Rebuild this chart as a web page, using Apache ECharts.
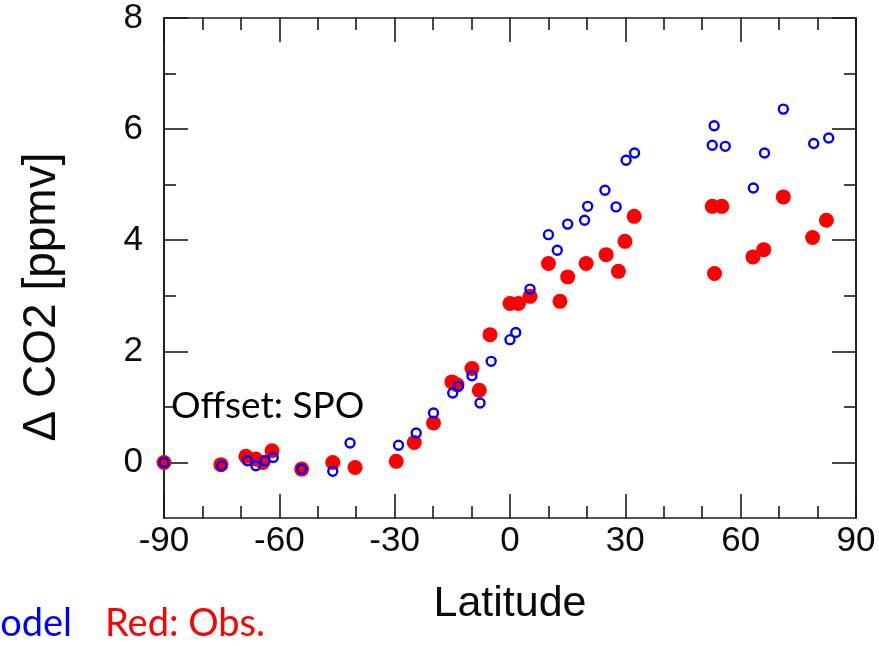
<!DOCTYPE html>
<html>
<head>
<meta charset="utf-8">
<script src="https://cdn.jsdelivr.net/npm/echarts@6/dist/echarts.min.js"></script>
<style>
html,body{margin:0;padding:0;background:#fff;}
#chart{width:879px;height:646px;}
</style>
</head>
<body>
<div id="chart"></div>
<script>
// Observations (red, filled)
const obsLat = [-90, -75.2, -68.7, -66.1, -64.3, -61.9, -54.2, -46.1, -40.3, -29.6, -24.9, -19.9, -15.1, -13.8, -9.9, -8.0, -5.2, 0.0, 2.2, 5.2, 10.0, 13.0, 15.0, 19.8, 25.0, 28.2, 29.9, 32.3, 52.6, 53.2, 55.1, 63.2, 66.0, 71.1, 78.7, 82.3];
const obsCO2 = [0.00, -0.04, 0.11, 0.06, 0.00, 0.21, -0.12, 0.00, -0.09, 0.02, 0.36, 0.71, 1.45, 1.40, 1.69, 1.30, 2.30, 2.86, 2.86, 2.99, 3.58, 2.90, 3.34, 3.58, 3.74, 3.44, 3.98, 4.43, 4.61, 3.40, 4.61, 3.70, 3.83, 4.78, 4.05, 4.36];
// Model (blue, hollow)
const modelLat = [-90, -75.0, -68.3, -66.1, -63.7, -61.6, -54.2, -46.1, -41.6, -29.0, -24.4, -19.9, -14.9, -13.4, -9.9, -7.8, -4.9, 0.0, 1.5, 5.2, 10.0, 12.3, 15.0, 19.4, 20.2, 24.7, 27.6, 30.2, 32.4, 52.6, 53.1, 56.0, 63.3, 66.2, 71.1, 79.0, 82.9];
const modelCO2 = [0.00, -0.06, 0.03, -0.06, 0.03, 0.09, -0.12, -0.16, 0.35, 0.31, 0.53, 0.89, 1.25, 1.37, 1.56, 1.07, 1.82, 2.21, 2.34, 3.12, 4.10, 3.82, 4.29, 4.36, 4.61, 4.90, 4.60, 5.44, 5.57, 5.71, 6.06, 5.69, 4.94, 5.57, 6.36, 5.74, 5.84];

const yMajorTicks = [0, 2, 4, 6, 8];
const yMinorTicks = [1, 3, 5, 7];
const xTickLabels = [-90, -60, -30, 0, 30, 60, 90];

const AX = '#1a1a1a';
const lineS = {color: AX, width: 1.6};
const fontMain = '"Liberation Sans", Arial, Helvetica, sans-serif';
const fontNote = 'Lato, "Open Sans", sans-serif';

function xAxisDef(pos, labels) {
  return {
    type: 'value', gridIndex: 0, position: pos,
    min: xTickLabels[0], max: xTickLabels[xTickLabels.length - 1], interval: 30,
    axisLine: {show: true, onZero: false, lineStyle: lineS},
    axisTick: {show: true, inside: true, length: 24, lineStyle: lineS},
    minorTick: {show: true, splitNumber: 3, length: 12, lineStyle: lineS},
    splitLine: {show: false}, minorSplitLine: {show: false},
    axisLabel: labels ? {show: true, fontSize: 35, color: '#0a0a0a', fontFamily: fontMain, margin: 6, showMinLabel: true, showMaxLabel: true} : {show: false}
  };
}
function yAxisDef(pos, major, labels) {
  const vals = major ? yMajorTicks : yMinorTicks;
  return {
    type: 'value', gridIndex: 0, position: pos, min: -1, max: 8,
    axisLine: {show: true, onZero: false, lineStyle: lineS},
    axisTick: {show: true, inside: true, length: major ? 24 : 12, lineStyle: lineS, customValues: vals},
    splitLine: {show: false},
    axisLabel: labels ? {show: true, fontSize: 35, color: '#0a0a0a', fontFamily: fontMain, margin: 21, customValues: yMajorTicks} : {show: false}
  };
}

const chart = echarts.init(document.getElementById('chart'), null, {renderer: 'canvas'});
const xb = xAxisDef('bottom', true);
xb.name = 'Latitude';
xb.nameLocation = 'middle';
xb.nameGap = 65;
xb.nameTextStyle = {fontSize: 43, color: '#0a0a0a', fontFamily: fontMain};

chart.setOption({
  animation: false,
  backgroundColor: '#fff',
  grid: {left: 164, right: 23, top: 18, bottom: 128},
  xAxis: [xb, xAxisDef('top', false)],
  yAxis: [yAxisDef('left', true, true), yAxisDef('left', false, false), yAxisDef('right', true, false), yAxisDef('right', false, false)],
  series: [
    {
      name: 'Obs', type: 'scatter', xAxisIndex: 0, yAxisIndex: 0,
      data: obsLat.map((v, i) => [v, obsCO2[i]]),
      symbol: 'circle', symbolSize: 15,
      itemStyle: {color: '#ff0000', opacity: 1}, z: 2
    },
    {
      name: 'Model', type: 'scatter', xAxisIndex: 0, yAxisIndex: 0,
      data: modelLat.map((v, i) => [v, modelCO2[i]]),
      symbol: 'circle', symbolSize: 9,
      itemStyle: {color: 'rgba(0,0,0,0)', borderColor: '#0000ff', borderWidth: 2.4, opacity: 1}, z: 3
    }
  ],
  graphic: [
    {type: 'text', x: 42, y: 297, rotation: Math.PI / 2,
     style: {text: 'Δ CO2 [ppmv]', fontSize: 46, fontFamily: fontMain, fill: '#0a0a0a', align: 'center', verticalAlign: 'middle'}},
    {type: 'text', x: 171, y: 406, z: 10,
     style: {text: 'Offset: SPO', fontSize: 37, fontFamily: fontNote, fill: '#000', align: 'left', verticalAlign: 'middle'}},
    {type: 'text', x: 72, y: 624,
     style: {text: 'Blue: Model', fontSize: 38, fontFamily: fontNote, fill: '#0000ff', align: 'right', verticalAlign: 'middle'}},
    {type: 'text', x: 105, y: 624,
     style: {text: 'Red: Obs.', fontSize: 38, fontFamily: fontNote, fill: '#ff0000', align: 'left', verticalAlign: 'middle'}}
  ]
});
</script>
</body>
</html>
